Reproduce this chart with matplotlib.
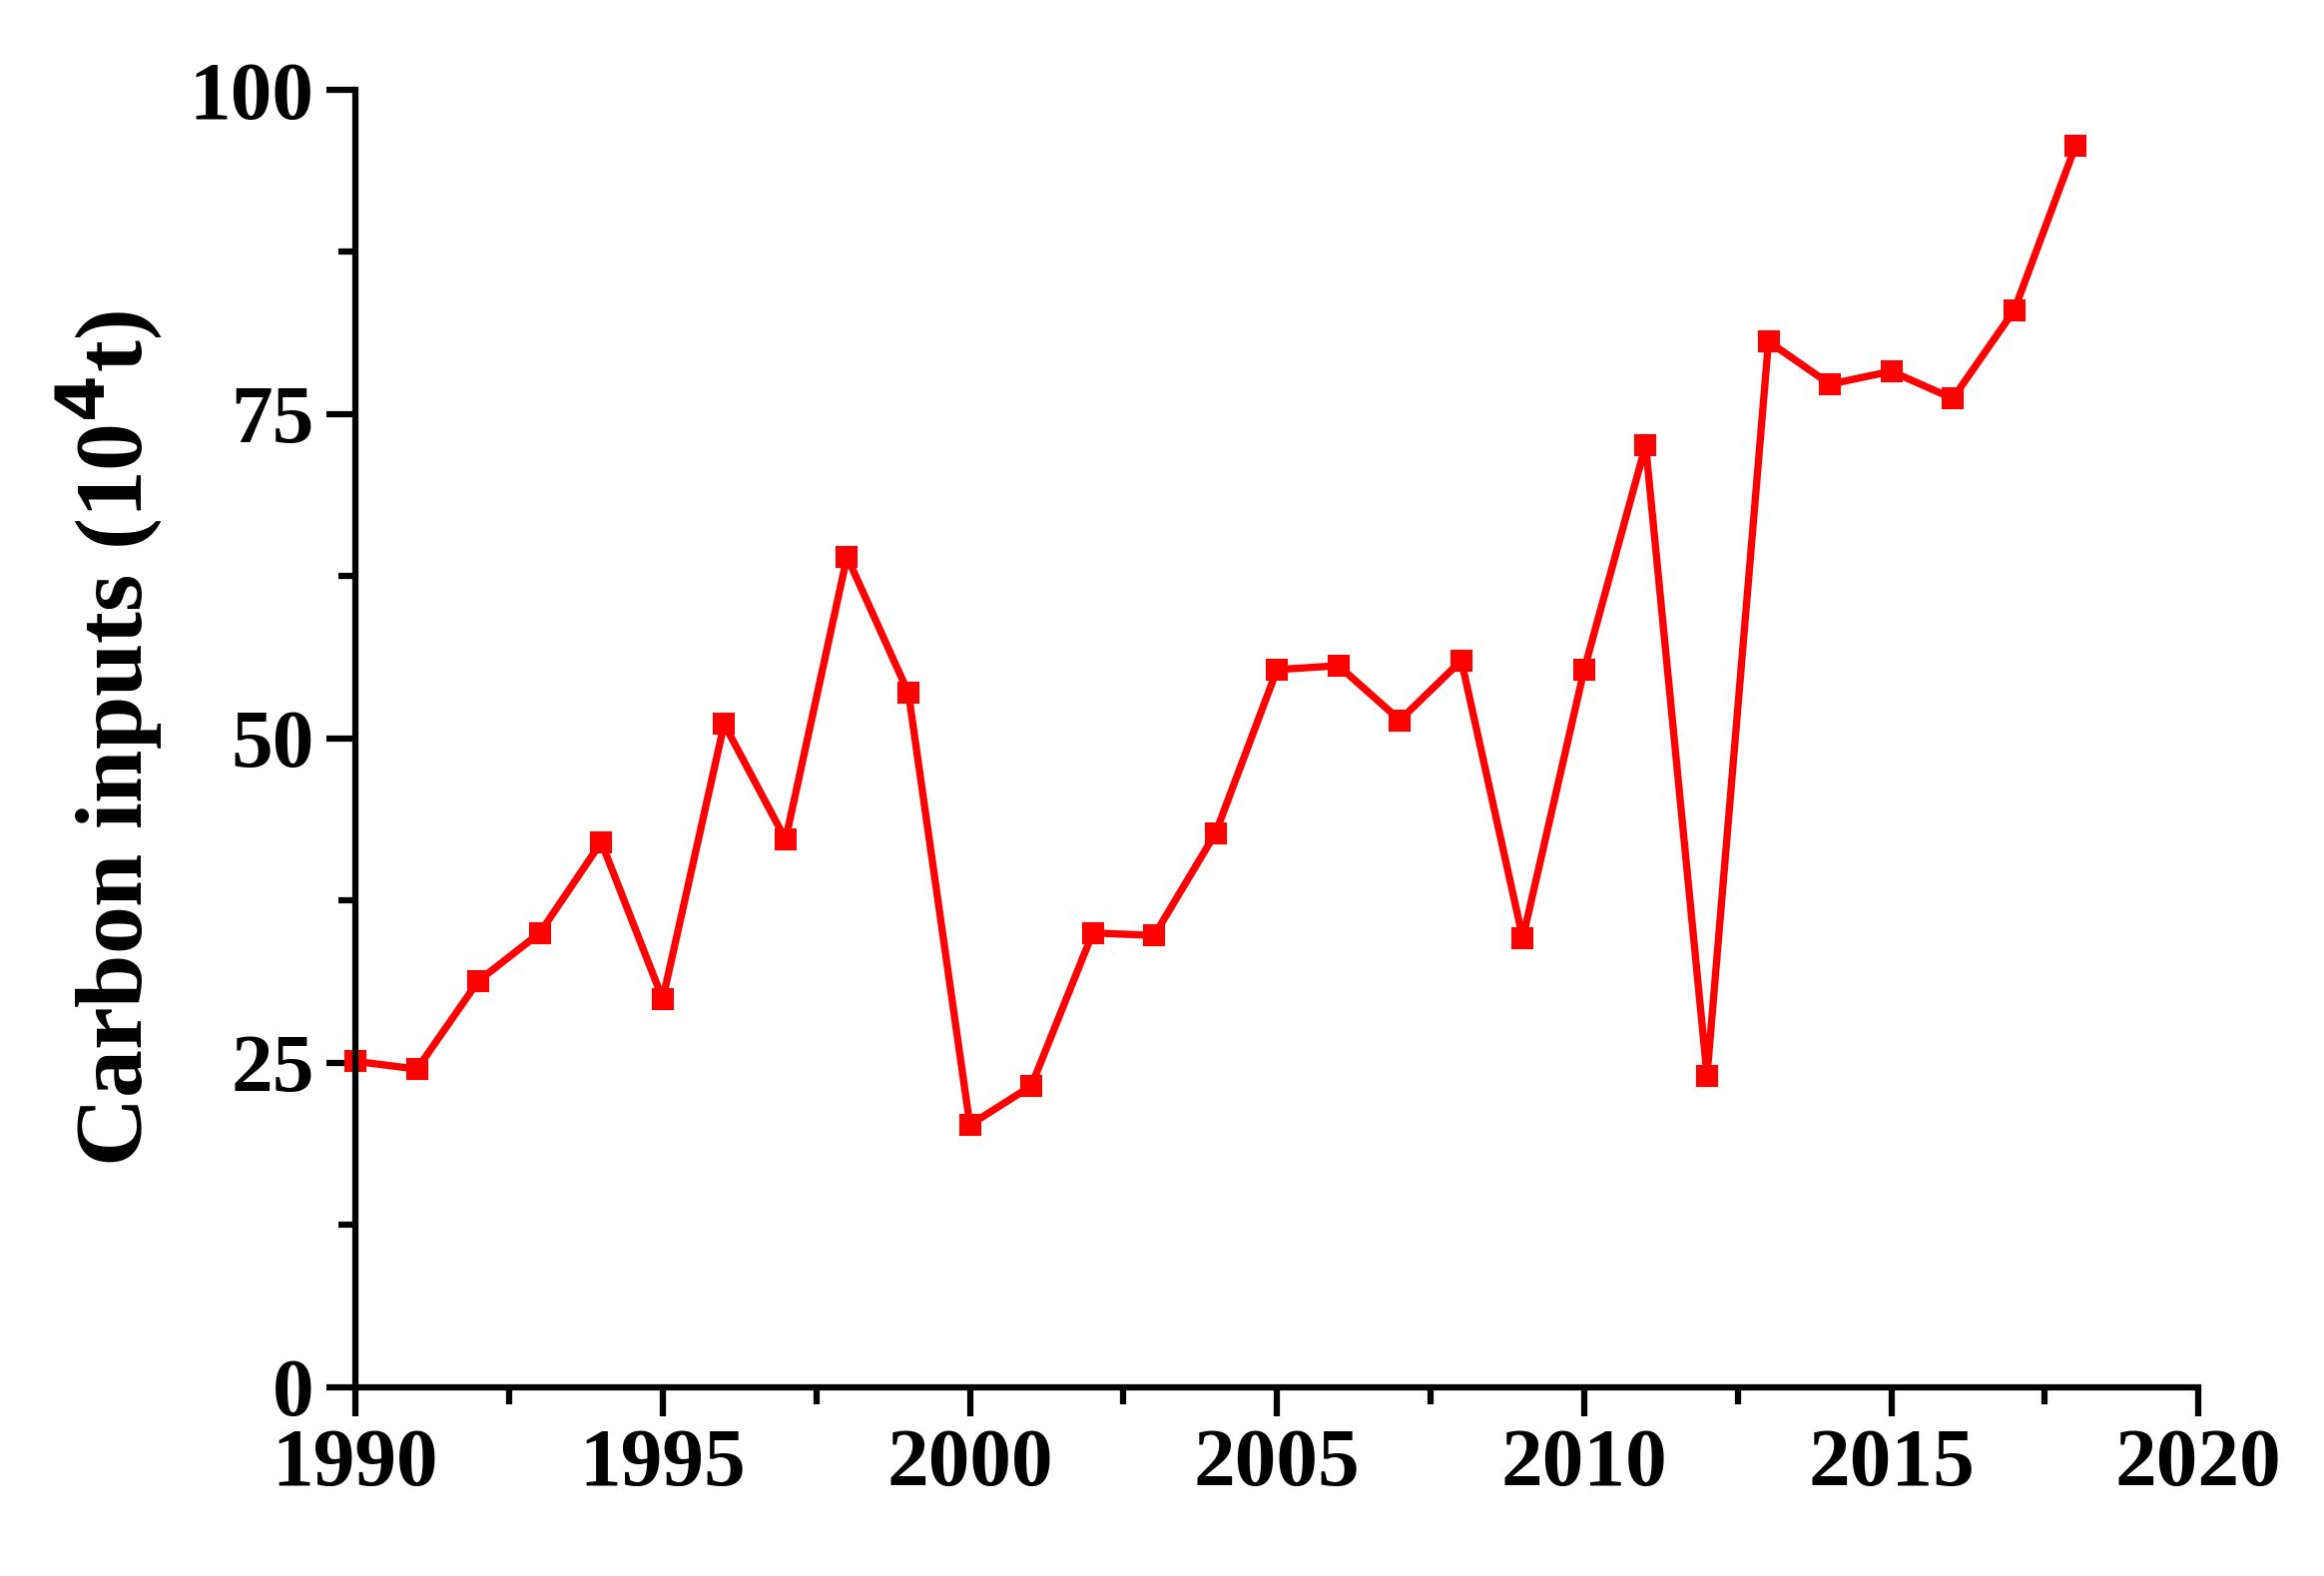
import matplotlib.pyplot as plt
from matplotlib.ticker import MultipleLocator

years = list(range(1990, 2019))
carbon = [25.1, 24.5, 31.3, 35.0, 42.0, 29.9, 51.1, 42.2, 64.0, 53.5,
          20.2, 23.2, 35.0, 34.8, 42.7, 55.3, 55.6, 51.4, 56.0, 34.6,
          55.3, 72.6, 24.0, 80.6, 77.3, 78.3, 76.2, 83.0, 95.7]

plt.rcParams['font.family'] = ['Liberation Serif', 'DejaVu Serif']
plt.rcParams['font.weight'] = 'bold'

fig = plt.figure(figsize=(15.52, 10.527), dpi=150)
ax = fig.add_axes([0.153, 0.12, 0.793, 0.823])
ax.plot(years, carbon, color='#ff0000', lw=3.5, marker='s', ms=10, clip_on=False)

ax.set_xlim(1990, 2020)
ax.set_ylim(0, 100)
ax.xaxis.set_major_locator(MultipleLocator(5))
ax.xaxis.set_minor_locator(MultipleLocator(2.5))
ax.yaxis.set_major_locator(MultipleLocator(25))
ax.yaxis.set_minor_locator(MultipleLocator(12.5))
for s in ['top', 'right']:
    ax.spines[s].set_visible(False)
for s in ['left', 'bottom']:
    ax.spines[s].set_linewidth(3)
ax.tick_params(which='major', direction='out', length=14, width=3, labelsize=40, pad=6)
ax.tick_params(which='minor', direction='out', length=8, width=3)
ax.set_ylabel('Carbon inputs (10$^{\\mathbf{4}}$t)', fontsize=46, fontweight='bold', labelpad=12)

fig.savefig('out.png', dpi=150)
